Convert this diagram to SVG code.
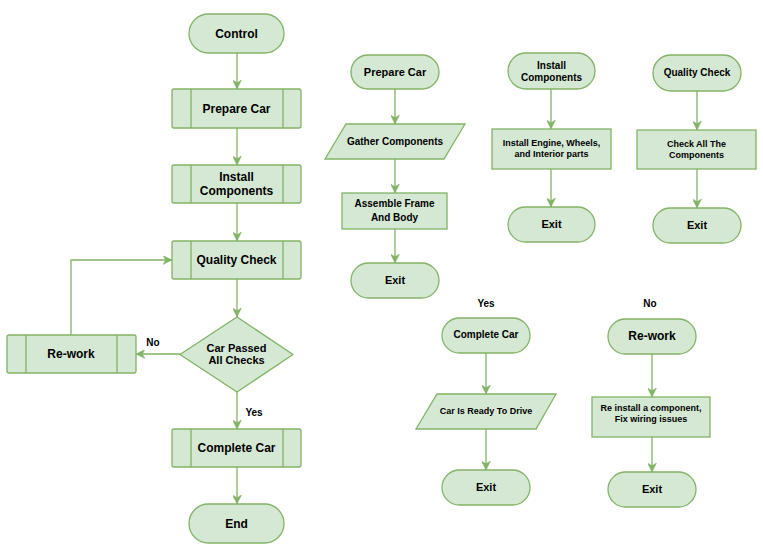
<svg xmlns="http://www.w3.org/2000/svg" width="763" height="557" viewBox="0 0 763 557">
  <style>
    .n { fill: #d5e8d4; stroke: #82b366; stroke-width: 1.3; }
    .d { fill: none; stroke: #82b366; stroke-width: 1.3; }
    .e { fill: none; stroke: #82b366; stroke-width: 1.3; marker-end: url(#arr); }
    text { font-family: "Liberation Sans", Arial, Helvetica, sans-serif; font-weight: bold; fill: #000; text-anchor: middle; }
    .t12 { font-size: 12px; }
    .t11 { font-size: 11px; }
    .t10 { font-size: 10px; }
    .t9 { font-size: 9px; }
  </style>
  <defs>
    <marker id="arr" viewBox="0 0 10 10" refX="10" refY="5" markerWidth="9" markerHeight="9" markerUnits="userSpaceOnUse" orient="auto">
      <path d="M0,0 L10,5 L0,10 L3,5 Z" fill="#82b366" stroke="#82b366" stroke-width="0.5"/>
    </marker>
  </defs>
  <rect width="763" height="557" fill="#ffffff"/>

  <!-- connectors -->
  <g id="edges">
    <path class="e" d="M237,53 V89"/>
    <path class="e" d="M237,128 V165"/>
    <path class="e" d="M237,203 V241"/>
    <path class="e" d="M237,279 V317"/>
    <path class="e" d="M180,354 H136"/>
    <path class="e" d="M71,335 V260 H172"/>
    <path class="e" d="M237,392 V429"/>
    <path class="e" d="M237,467 V504"/>

    <path class="e" d="M395,89 V124"/>
    <path class="e" d="M395,159 V193"/>
    <path class="e" d="M395,229 V263"/>

    <path class="e" d="M551,89 V129"/>
    <path class="e" d="M551,169 V207"/>

    <path class="e" d="M697,91 V130"/>
    <path class="e" d="M697,169 V208"/>

    <path class="e" d="M486,353 V394"/>
    <path class="e" d="M486,429 V470"/>

    <path class="e" d="M652,354 V397"/>
    <path class="e" d="M652,437 V472"/>
  </g>

  <!-- main flow -->
  <g id="control">
    <rect class="n" x="189" y="14" width="95" height="39" rx="19.5"/>
    <text class="t12" x="236.5" y="38">Control</text>
  </g>
  <g id="prepare-car">
    <rect class="n" x="172" y="89" width="129" height="39" rx="2"/>
    <path class="d" d="M191,89 V128 M283,89 V128"/>
    <text class="t12" x="236.5" y="113">Prepare Car</text>
  </g>
  <g id="install-components">
    <rect class="n" x="172" y="165" width="129" height="38" rx="2"/>
    <path class="d" d="M191,165 V203 M283,165 V203"/>
    <text class="t12" x="236.5" y="181">Install</text>
    <text class="t12" x="236.5" y="195">Components</text>
  </g>
  <g id="quality-check">
    <rect class="n" x="172" y="241" width="129" height="38" rx="2"/>
    <path class="d" d="M191,241 V279 M283,241 V279"/>
    <text class="t12" x="236.5" y="264">Quality Check</text>
  </g>
  <g id="passed-checks">
    <path class="n" d="M237,317 L293,354.5 L237,392 L180,354.5 Z"/>
    <text class="t11" x="236.5" y="352">Car Passed</text>
    <text class="t11" x="236.5" y="364">All Checks</text>
  </g>
  <g id="rework">
    <rect class="n" x="7" y="335" width="129" height="38" rx="2"/>
    <path class="d" d="M26,335 V373 M117,335 V373"/>
    <text class="t12" x="71" y="358">Re-work</text>
  </g>
  <g id="complete-car">
    <rect class="n" x="172" y="429" width="129" height="38" rx="2"/>
    <path class="d" d="M191,429 V467 M283,429 V467"/>
    <text class="t12" x="236.5" y="452">Complete Car</text>
  </g>
  <g id="end">
    <rect class="n" x="189" y="504" width="95" height="39" rx="19.5"/>
    <text class="t12" x="236.5" y="528">End</text>
  </g>
  <g id="labels">
    <text class="t10" x="153" y="346">No</text>
    <text class="t10" x="254" y="416">Yes</text>
    <text class="t10" x="486" y="307">Yes</text>
    <text class="t10" x="650" y="307">No</text>
  </g>

  <!-- prepare car detail -->
  <g id="p-start">
    <rect class="n" x="351" y="55" width="88" height="34" rx="17"/>
    <text class="t11" x="395" y="76">Prepare Car</text>
  </g>
  <g id="p-gather">
    <path class="n" d="M346,124 H465 L444,159 H325 Z"/>
    <text class="t10" x="395" y="145">Gather Components</text>
  </g>
  <g id="p-assemble">
    <rect class="n" x="342" y="193" width="105" height="36"/>
    <text class="t10" x="394.5" y="207">Assemble Frame</text>
    <text class="t10" x="394.5" y="221">And Body</text>
  </g>
  <g id="p-exit">
    <rect class="n" x="351" y="263" width="88" height="35" rx="17.5"/>
    <text class="t11" x="395" y="284">Exit</text>
  </g>

  <!-- install components detail -->
  <g id="i-start">
    <rect class="n" x="508" y="53" width="87" height="36" rx="18"/>
    <text class="t10" x="551.5" y="69">Install</text>
    <text class="t10" x="551.5" y="81">Components</text>
  </g>
  <g id="i-install">
    <rect class="n" x="492" y="129" width="119" height="40"/>
    <text class="t9" x="551.5" y="146">Install Engine, Wheels,</text>
    <text class="t9" x="551.5" y="157">and Interior parts</text>
  </g>
  <g id="i-exit">
    <rect class="n" x="508" y="207" width="87" height="35" rx="17.5"/>
    <text class="t11" x="551.5" y="228">Exit</text>
  </g>

  <!-- quality check detail -->
  <g id="q-start">
    <rect class="n" x="653" y="55" width="88" height="36" rx="18"/>
    <text class="t10" x="697" y="76">Quality Check</text>
  </g>
  <g id="q-check">
    <rect class="n" x="637" y="130" width="119" height="39"/>
    <text class="t9" x="696.5" y="147">Check All The</text>
    <text class="t9" x="696.5" y="158">Components</text>
  </g>
  <g id="q-exit">
    <rect class="n" x="653" y="208" width="88" height="35" rx="17.5"/>
    <text class="t11" x="697" y="229">Exit</text>
  </g>

  <!-- yes branch detail -->
  <g id="y-start">
    <rect class="n" x="442" y="318" width="88" height="35" rx="17.5"/>
    <text class="t10" x="486" y="338">Complete Car</text>
  </g>
  <g id="y-ready">
    <path class="n" d="M437,394 H556 L536,429 H416 Z"/>
    <text class="t9" x="486" y="414">Car Is Ready To Drive</text>
  </g>
  <g id="y-exit">
    <rect class="n" x="442" y="470" width="88" height="35" rx="17.5"/>
    <text class="t11" x="486" y="491">Exit</text>
  </g>

  <!-- no branch detail -->
  <g id="r-start">
    <rect class="n" x="608" y="319" width="88" height="35" rx="17.5"/>
    <text class="t12" x="652" y="340">Re-work</text>
  </g>
  <g id="r-fix">
    <rect class="n" x="592" y="397" width="118" height="40"/>
    <text class="t9" x="651" y="411">Re install a component,</text>
    <text class="t9" x="651" y="422">Fix wiring issues</text>
  </g>
  <g id="r-exit">
    <rect class="n" x="608" y="472" width="88" height="35" rx="17.5"/>
    <text class="t11" x="652" y="493">Exit</text>
  </g>
</svg>
